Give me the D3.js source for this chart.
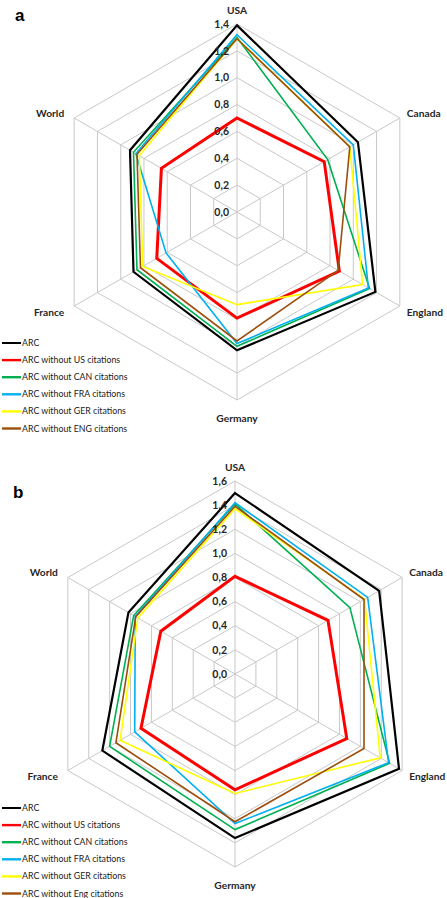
<!DOCTYPE html>
<html><head><meta charset="utf-8">
<script src="https://cdn.jsdelivr.net/npm/d3@7"></script>
<style>body{margin:0;background:#fff}svg{display:block}</style>
</head><body>
<svg id="c" width="447" height="898"></svg>
<script>
const axes = ["USA", "Canada", "England", "Germany", "France", "World"];
const seriesNamesA = ["ARC", "ARC without US citations", "ARC without CAN citations", "ARC without FRA citations", "ARC without GER citations", "ARC without ENG citations"];
const seriesNamesB = ["ARC", "ARC without US citations", "ARC without CAN citations", "ARC without FRA citations", "ARC without GER citations", "ARC without Eng citations"];
const colors = ["#000000", "#ff0000", "#00b050", "#00b0f0", "#ffff00", "#9c4f0c"];

// Chart a values (axes order)
const arcA    = [1.39, 1.04, 1.19, 1.03, 0.89, 0.92];
const noUSA   = [0.70, 0.75, 0.88, 0.79, 0.69, 0.65];
const noCANA  = [1.30, 0.78, 1.14, 1.00, 0.86, 0.89];
const noFRAA  = [1.32, 1.00, 1.13, 0.98, 0.61, 0.87];
const noGERA  = [1.29, 0.97, 1.08, 0.69, 0.81, 0.84];
const noENGA  = [1.29, 0.97, 0.87, 0.96, 0.83, 0.86];
const ticksA  = ["0,0", "0,2", "0,4", "0,6", "0,8", "1,0", "1,2", "1,4"];

// Chart b values
const arcB    = [1.50, 1.38, 1.57, 1.36, 1.27, 1.02];
const noUSB   = [0.81, 0.89, 1.07, 0.96, 0.90, 0.71];
const noCANB  = [1.41, 1.10, 1.48, 1.29, 1.20, 0.97];
const noFRAB  = [1.42, 1.27, 1.47, 1.24, 0.96, 0.955];
const noGERB  = [1.37, 1.24, 1.39, 0.99, 1.10, 0.93];
const noENGB  = [1.39, 1.235, 1.235, 1.225, 1.14, 0.95];
const ticksB  = ["0,0", "0,2", "0,4", "0,6", "0,8", "1,0", "1,2", "1,4", "1,6"];

const svg = d3.select("#c");
const widths = [2.2, 3, 1.6, 1.6, 1.6, 1.6];

function drawChart(cfg) {
  const g = svg.append("g");
  const tickVals = cfg.ticks.map(t => +t.replace(",", "."));
  const max = d3.max(tickVals);
  const r = d3.scaleLinear().domain([0, max]).range([0, cfg.R]);
  const ang = d3.scalePoint().domain(axes.concat(["_end"])).range([-Math.PI / 2, -Math.PI / 2 + 2 * Math.PI]);
  const pt = (a, v) => [cfg.cx + r(v) * Math.cos(ang(a)), cfg.cy + r(v) * Math.sin(ang(a))];
  const line = d3.line().curve(d3.curveLinearClosed);

  tickVals.forEach(t => {
    if (t === 0) return;
    g.append("path").attr("d", line(axes.map(a => pt(a, t))))
      .attr("fill", "none").attr("stroke", "#c8c8c8").attr("stroke-width", 1);
  });
  axes.forEach(a => {
    const p = pt(a, max);
    g.append("line").attr("x1", cfg.cx).attr("y1", cfg.cy).attr("x2", p[0]).attr("y2", p[1])
      .attr("stroke", "#c8c8c8").attr("stroke-width", 1);
  });
  cfg.series.forEach((s, i) => {
    g.append("path").attr("d", line(axes.map((a, j) => pt(a, s[j]))))
      .attr("fill", "none").attr("stroke", colors[i]).attr("stroke-width", widths[i])
      .attr("stroke-linejoin", "miter");
  });
  cfg.ticks.forEach((t, i) => {
    g.append("text").attr("x", cfg.cx - 8).attr("y", cfg.cy - r(tickVals[i]))
      .attr("dy", "0.35em").attr("text-anchor", "end")
      .attr("font-family", "Lato, 'Open Sans', sans-serif").attr("font-weight", "bold")
      .attr("font-size", 10.5).attr("fill", "#262626").text(t);
  });
  axes.forEach(a => {
    const p = pt(a, max);
    let x = p[0], y = p[1], anchor = "middle";
    const c = Math.cos(ang(a));
    if (c > 0.1) { x += 7; anchor = "start"; y += (Math.sin(ang(a)) < 0 ? -5 : 6); }
    else if (c < -0.1) { x -= 10; anchor = "end"; y += (Math.sin(ang(a)) < 0 ? -5 : 6); }
    else if (Math.sin(ang(a)) < 0) { y -= 14; }
    else { y += 18; }
    g.append("text").attr("x", x).attr("y", y).attr("dy", "0.35em").attr("text-anchor", anchor)
      .attr("font-family", "Lato, 'Open Sans', sans-serif").attr("font-weight", "bold")
      .attr("font-size", 10.2).attr("fill", "#262626").text(a);
  });
  g.append("text").attr("x", cfg.letterX).attr("y", cfg.letterY)
    .attr("font-family", "Arial, 'Liberation Sans', sans-serif").attr("font-weight", "bold")
    .attr("font-size", 17).attr("fill", "#000").text(cfg.letter);
  const lg = g.append("g");
  cfg.names.forEach((nm, i) => {
    const y = cfg.legY + i * 17.1;
    lg.append("line").attr("x1", 2).attr("x2", 21).attr("y1", y).attr("y2", y)
      .attr("stroke", colors[i]).attr("stroke-width", i === 0 ? 2 : 2.4);
    lg.append("text").attr("x", 22).attr("y", y).attr("dy", "0.35em")
      .attr("font-family", "Lato, 'Open Sans', sans-serif").attr("font-size", 8.8)
      .attr("fill", "#1a1a1a").text(nm);
  });
}

drawChart({cx: 237, cy: 212, R: 188, ticks: ticksA, series: [arcA, noUSA, noCANA, noFRAA, noGERA, noENGA],
  names: seriesNamesA, legY: 343, letter: "a", letterX: 15, letterY: 21});
drawChart({cx: 235, cy: 674, R: 193, ticks: ticksB, series: [arcB, noUSB, noCANB, noFRAB, noGERB, noENGB],
  names: seriesNamesB, legY: 808, letter: "b", letterX: 13, letterY: 498});
</script>
</body></html>
